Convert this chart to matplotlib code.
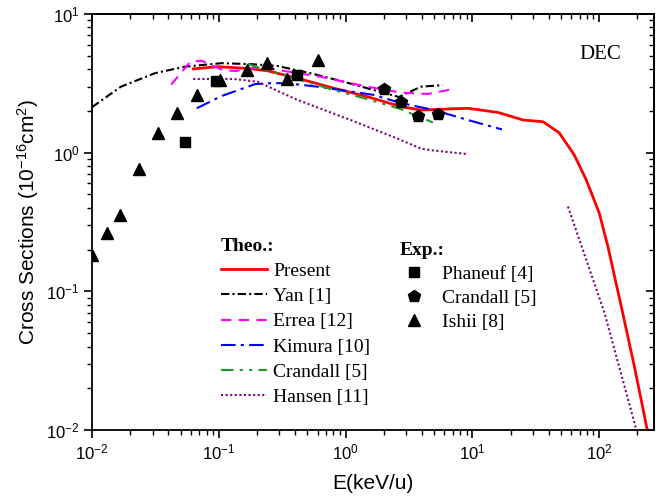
import numpy as np
import matplotlib
matplotlib.use("Agg")
import matplotlib.pyplot as plt
from matplotlib.ticker import LogLocator, NullFormatter

# ================= data =================
present_e = [0.0628, 0.099, 0.168, 0.241, 0.418, 0.804, 1.49, 2.72, 3.92, 9.2,
             15.9, 25.1, 36.1, 48.3, 63.4, 78.9, 100, 117, 149, 189, 239]
present_s = [4.02, 4.17, 4.05, 3.90, 3.44, 2.92, 2.53, 2.15, 2.03, 2.09,
             1.95, 1.72, 1.67, 1.39, 0.965, 0.637, 0.366, 0.21, 0.0778, 0.0288, 0.01]

yan_e = [0.01, 0.0169, 0.0313, 0.054, 0.105, 0.1875, 0.29, 0.528, 0.964, 1.66, 2.63, 3.92, 5.81]
yan_s = [2.13, 2.99, 3.74, 4.17, 4.42, 4.34, 4.22, 3.74, 3.25, 2.83, 2.52, 2.99, 3.07]

errea_e = [0.0421, 0.0596, 0.0728, 0.1066, 0.135, 0.213, 0.418, 0.634, 1.04, 1.49, 2.72, 4.45, 6.97]
errea_s = [3.10, 4.53, 4.61, 3.95, 3.88, 4.15, 3.74, 3.53, 3.20, 2.99, 2.71, 2.65, 2.87]

kimura_e = [0.067, 0.105, 0.193, 0.255, 0.342, 0.601, 0.912, 1.66, 2.72, 4.97, 9.2, 17.1]
kimura_s = [2.09, 2.56, 3.12, 3.17, 3.17, 2.99, 2.83, 2.61, 2.28, 2.03, 1.72, 1.47]

crandall_th_e = [0.168, 0.29, 0.804, 1.49, 2.72, 4.88]
crandall_th_s = [4.36, 3.74, 2.83, 2.43, 2.06, 1.65]

hansen_low_e = [0.0628, 0.130, 0.201, 0.418, 1.095, 2.58, 3.92, 4.97, 8.89]
hansen_low_s = [3.40, 3.40, 3.25, 2.40, 1.72, 1.26, 1.07, 1.035, 0.98]
hansen_high_e = [56.6, 110, 196]
hansen_high_s = [0.409, 0.0698, 0.01]

phaneuf_e = [0.054, 0.0955, 0.41]
phaneuf_s = [1.20, 3.29, 3.64]

crandall_ex_e = [2.01, 2.72, 3.73, 5.37]
crandall_ex_s = [2.87, 2.33, 1.84, 1.89]

ishii_e = [0.01, 0.0131, 0.0166, 0.0234, 0.0333, 0.047, 0.0676, 0.103, 0.168, 0.241, 0.342, 0.601]
ishii_s = [0.184, 0.264, 0.356, 0.764, 1.39, 1.94, 2.61, 3.34, 3.95, 4.44, 3.41, 4.67]

# ================= style =================
SANS = "Liberation Sans"
SERIF = "Liberation Serif"
plt.rcParams["font.family"] = SANS
plt.rcParams["mathtext.fontset"] = "custom"
plt.rcParams["mathtext.rm"] = SANS
plt.rcParams["mathtext.it"] = SANS + ":italic"
plt.rcParams["mathtext.bf"] = SANS + ":bold"
plt.rcParams["axes.unicode_minus"] = False

fig = plt.figure(figsize=(6.56, 5.0), dpi=100)
ax = fig.add_axes([92 / 656, 70 / 500, 562 / 656, 416 / 500])

lw = 1.5
ax.plot(present_e, present_s, color="#ff0000", lw=2.0, label="Present")
ax.plot(yan_e, yan_s, color="black", lw=lw, ls=(0, (4, 1.5, 1, 1.5)), label="Yan [1]")
ax.plot(errea_e, errea_s, color="#ff00ff", lw=lw, ls=(0, (5, 3.5)), label="Errea [12]")
ax.plot(kimura_e, kimura_s, color="#0000ff", lw=lw, ls=(0, (7, 2.5, 1.5, 2.5)), label="Kimura [10]")
ax.plot(crandall_th_e, crandall_th_s, color="#229922", lw=lw,
        ls=(0, (6, 3, 1.5, 3, 1.5, 3)), label="Crandall [5]")
ax.plot(hansen_low_e, hansen_low_s, color="#800080", lw=lw, ls=(0, (1, 1.2)), label="Hansen [11]")
ax.plot(hansen_high_e, hansen_high_s, color="#800080", lw=lw, ls=(0, (1, 1.2)))

ax.plot(phaneuf_e, phaneuf_s, "s", color="black", ms=6.7, ls="none", label="Phaneuf [4]")
ax.plot(crandall_ex_e, crandall_ex_s, "p", color="black", ms=9.0, ls="none", label="Crandall [5]")
ax.plot(ishii_e, ishii_s, "^", color="black", ms=8.4, ls="none", label="Ishii [8]")

ax.set_xscale("log")
ax.set_yscale("log")
ax.set_xlim(0.01, 270)
ax.set_ylim(0.01, 10)

# ticks: out on left/bottom, in on top/right
for axis in (ax.xaxis, ax.yaxis):
    axis.set_major_locator(LogLocator(base=10, numticks=20))
    axis.set_minor_locator(LogLocator(base=10, subs=np.arange(2, 10), numticks=20))
    axis.set_minor_formatter(NullFormatter())
ax.tick_params(which="major", direction="out", length=6, width=1.2, labelsize=12, pad=3)
ax.tick_params(which="minor", direction="out", length=3.5, width=1.0)

top = ax.secondary_xaxis("top")
top.set_xscale("log")
top.xaxis.set_major_locator(LogLocator(base=10, numticks=20))
top.xaxis.set_minor_locator(LogLocator(base=10, subs=np.arange(2, 10), numticks=20))
top.tick_params(which="major", direction="in", length=6, width=1.2, labeltop=False)
top.tick_params(which="minor", direction="in", length=3.5, width=1.0, labeltop=False)
right = ax.secondary_yaxis("right")
right.set_yscale("log")
right.yaxis.set_major_locator(LogLocator(base=10, numticks=20))
right.yaxis.set_minor_locator(LogLocator(base=10, subs=np.arange(2, 10), numticks=20))
right.tick_params(which="major", direction="in", length=6, width=1.2, labelright=False)
right.tick_params(which="minor", direction="in", length=3.5, width=1.0, labelright=False)
for sp in list(ax.spines.values()) + [top.spines["top"], right.spines["right"]]:
    sp.set_linewidth(1.3)

ax.set_xlabel("E(keV/u)", fontsize=15, labelpad=8)
ax.set_ylabel("Cross Sections (10$^{-16}$cm$^2$)", fontsize=15, labelpad=4)

ax.text(0.904, 0.902, "DEC", transform=ax.transAxes, ha="center", va="center",
        fontsize=15, family=SERIF)

# two legends: theory lines and experiments
handles, labels = ax.get_legend_handles_labels()
leg_font = {"family": SERIF, "size": 14}
title_font = {"family": SERIF, "size": 14, "weight": "bold"}
leg1 = ax.legend(handles[:6], labels[:6], title="Theo.:", loc="upper left",
                 bbox_to_anchor=(0.229, 0.462), frameon=False, prop=leg_font,
                 title_fontproperties=title_font, alignment="left",
                 handlelength=2.4, handletextpad=0.3, labelspacing=0.39,
                 borderpad=0, borderaxespad=0)
ax.add_artist(leg1)
ax.legend(handles[6:], labels[6:], title="Exp.:", loc="upper left",
          bbox_to_anchor=(0.548, 0.452), frameon=False, prop=leg_font,
          title_fontproperties=title_font, alignment="left",
          handlelength=1.4, handletextpad=0.75, labelspacing=0.33,
          borderpad=0, borderaxespad=0)

plt.savefig("out.png", dpi=100)
